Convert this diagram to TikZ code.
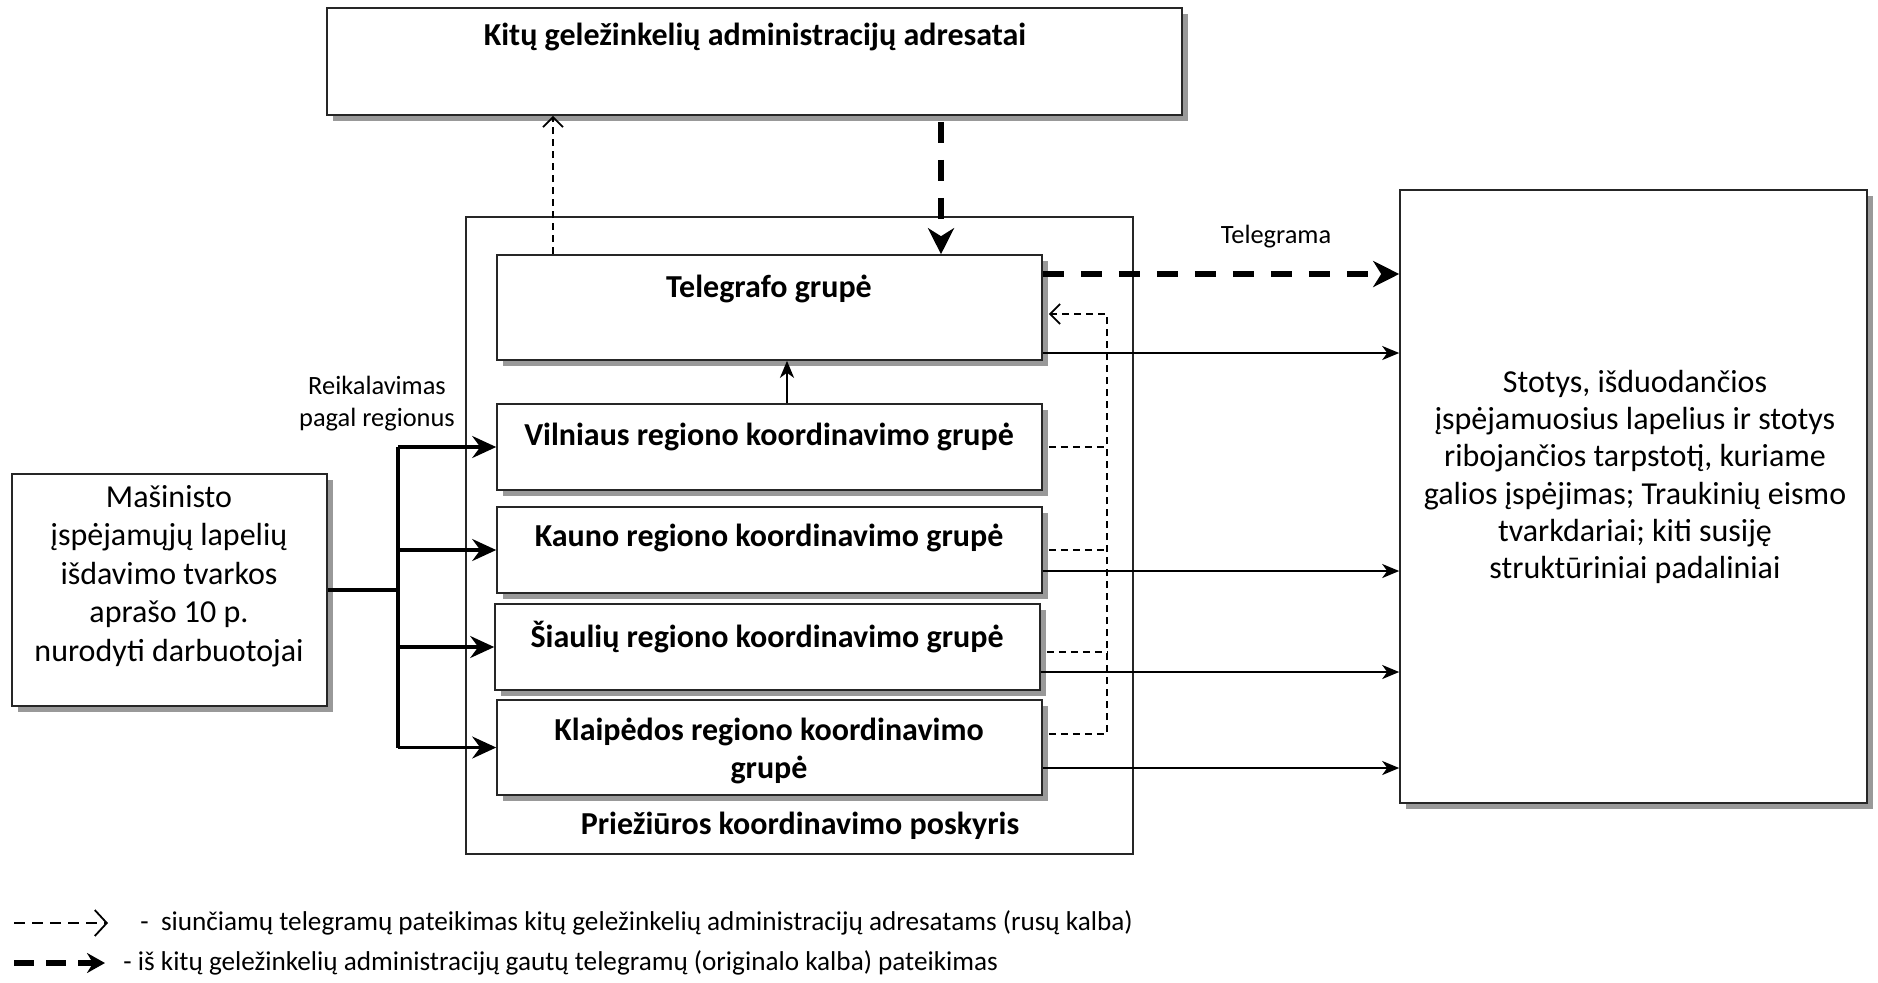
\documentclass[tikz,border=0pt]{standalone}
\usepackage{fontspec}
\setmainfont{Carlito}
\usetikzlibrary{arrows.meta,fit,shadows}
\begin{document}
\begin{tikzpicture}[x=0.5pt,y=-0.5pt,
  shadowed/.style={drop shadow={shadow xshift=3pt,shadow yshift=-3pt,fill=black!40,opacity=1}},
  box/.style={draw=black!85,line width=0.8pt,fill=white,inner sep=0pt,shadowed},
  plainbox/.style={draw=black!85,line width=0.6pt,fill=white,inner sep=0pt},
  btxt/.style={font=\fontsize{16}{19}\selectfont\bfseries,align=center,inner sep=0pt},
  rtxt/.style={font=\fontsize{16}{19}\selectfont,align=center,inner sep=0pt},
  stxt/.style={font=\fontsize{13.2}{16}\selectfont,align=center,inner sep=0pt},
  ltxt/.style={font=\fontsize{13.6}{16}\selectfont,anchor=west,inner sep=0pt},
  solidarr/.style={line width=1.1pt,-{Stealth[length=8.5pt,width=7pt,inset=2.5pt]}},
  brline/.style={line width=1.6pt},
  brarr/.style={line width=1.6pt,-{Stealth[length=12pt,width=11pt,inset=4pt]}},
  thickdash/.style={line width=2.6pt,dash pattern=on 10.5pt off 8.5pt,-{Stealth[length=13pt,width=13pt,inset=4pt]}},
  tdash/.style={line width=0.9pt,dash pattern=on 3.5pt off 2.5pt},
  tdasharr/.style={tdash,-{Straight Barb[length=5pt,width=10pt,line width=0.9pt]}}
]
\useasboundingbox (0,0) rectangle (1878,982);

% container
\node[plainbox,fit={(466,217)(1133,854)}] (cont) {};
\node[btxt] (conttxt) at (800,826) {Priežiūros koordinavimo poskyris};

% top box
\node[box,fit={(327,8)(1182,115)}] (top) {};
\node[btxt] (toptxt) at (755,37) {Kitų geležinkelių administracijų adresatai};

% group boxes
\node[box,fit={(497,255)(1042,360)}] (tel) {};
\node[btxt] (teltxt) at (769,289) {Telegrafo grupė};
\node[box,fit={(497,404)(1042,490)}] (vil) {};
\node[btxt] (viltxt) at (769,437) {Vilniaus regiono koordinavimo grupė};
\node[box,fit={(497,507)(1042,593)}] (kau) {};
\node[btxt] (kautxt) at (769,538) {Kauno regiono koordinavimo grupė};
\node[box,fit={(495,604)(1040,690)}] (sia) {};
\node[btxt] (siatxt) at (767,637) {Šiaulių regiono koordinavimo grupė};
\node[box,fit={(497,700)(1042,795)}] (kla) {};
\node[btxt] (klatxt) at (769,751) {Klaipėdos regiono koordinavimo\\grupė};

% left box
\node[box,fit={(12,474)(327,706)}] (left) {};
\node[rtxt,font=\fontsize{16}{19.2}\selectfont] (lefttxt) at (169,576) {Mašinisto\\įspėjamųjų lapelių\\išdavimo tvarkos\\aprašo 10 p.\\nurodyti darbuotojai};

% big right box
\node[box,fit={(1400,190)(1867,803)}] (big) {};
\node[rtxt,font=\fontsize{16}{18.6}\selectfont] (bigtxt) at (1635,477) {Stotys, išduodančios\\įspėjamuosius lapelius ir stotys\\ribojančios tarpstotį, kuriame\\galios įspėjimas; Traukinių eismo\\tvarkdariai; kiti susiję\\struktūriniai padaliniai};

% labels
\node[stxt] (telegrama) at (1276,237) {Telegrama};
\node[stxt] (reik) at (377,404) {Reikalavimas\\pagal regionus};

% bus from left box
\coordinate (bus) at (398,590);
\draw[brline] (left.east) -- (bus);
\draw[brline] (bus |- vil.west) -- (bus |- kla.west);
\draw[brarr] (bus |- vil.west) -- (vil.west);
\draw[brarr] (bus |- kau.west) -- (kau.west);
\draw[brarr] (bus |- sia.west) -- (sia.west);
\draw[brarr] (bus |- kla.west) -- (kla.west);

% Vilnius -> Telegrafo
\coordinate (vt1) at ([xshift=8.75pt]vil.north);
\draw[solidarr] (vt1) -- (vt1 |- tel.south);

% top <-> tel
\coordinate (up1) at ([xshift=-108.25pt]tel.north);
\draw[tdasharr] (up1) -- (up1 |- top.south);
\coordinate (dn1) at ([xshift=85.75pt]tel.north);
\coordinate (dn0) at ([yshift=-3pt]dn1 |- top.south);
\draw[thickdash] (dn0) -- (dn1);

% tel -> big
\coordinate (tb1) at ([yshift=16.75pt]tel.east);
\draw[thickdash] (tb1) -- (tb1 -| big.west);
\coordinate (tb2) at ([yshift=-22.75pt]tel.east);
\draw[solidarr] (tb2) -- (tb2 -| big.west);
\coordinate (kb) at ([yshift=-10.5pt]kau.east);
\draw[solidarr] (kb) -- (kb -| big.west);
\coordinate (sb) at ([yshift=-12.5pt]sia.east);
\draw[solidarr] (sb) -- (sb -| big.west);
\coordinate (lb) at ([yshift=-10.25pt]kla.east);
\draw[solidarr] (lb) -- (lb -| big.west);

% dashed return collector
\coordinate (vx) at (1107,0);
\coordinate (telR) at ([xshift=3pt,yshift=-3.25pt]tel.east);
\coordinate (vilF) at ([xshift=3pt]vil.east);
\coordinate (kauF) at ([xshift=3pt]kau.east);
\coordinate (siaF) at ([xshift=3pt,yshift=-2.5pt]sia.east);
\coordinate (klaF) at ([xshift=3pt,yshift=6.75pt]kla.east);
\draw[tdasharr] (klaF) -- (klaF -| vx) -- (telR -| vx) -- (telR);
\draw[tdash] (vilF) -- (vilF -| vx);
\draw[tdash] (kauF) -- (kauF -| vx);
\draw[tdash] (siaF) -- (siaF -| vx);

% legend
\coordinate (lg1a) at (14,923);
\coordinate (lg1b) at (108,923);
\draw[line width=0.9pt,dash pattern=on 5.5pt off 3.5pt,-{Straight Barb[length=6pt,width=13pt,line width=0.9pt]}] (lg1a) -- (lg1b);
\node[ltxt] (lg1t) at (140,923) {-\ \ siunčiamų telegramų pateikimas kitų geležinkelių administracijų adresatams (rusų kalba)};
\coordinate (lg2a) at (14,963);
\coordinate (lg2b) at (105,963);
\draw[line width=2.6pt,dash pattern=on 10pt off 6pt,-{Stealth[length=9pt,width=10pt,inset=3pt]}] (lg2a) -- (lg2b);
\node[ltxt] (lg2t) at (123,963) {- iš kitų geležinkelių administracijų gautų telegramų (originalo kalba) pateikimas};
\end{tikzpicture}
\end{document}
